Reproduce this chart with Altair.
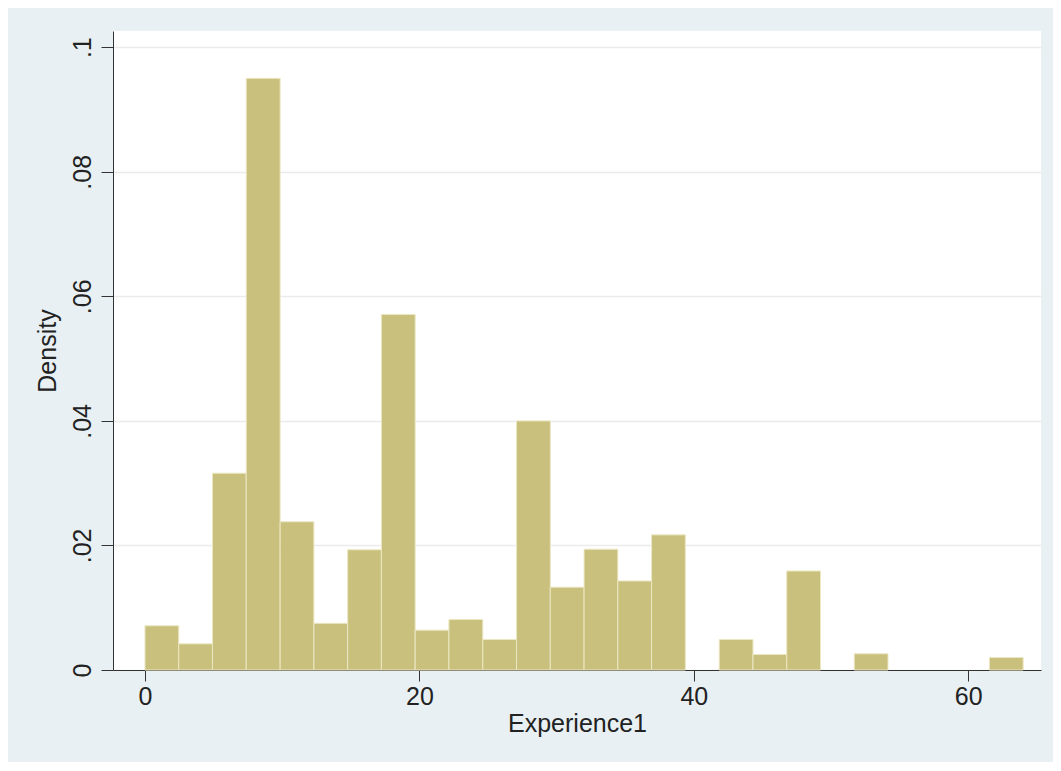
import altair as alt
import pandas as pd

# Histogram bins (Experience1), 26 bins of width ~2.46 from 0 to 64
bin_start = [0, 2.46, 4.92, 7.38, 9.85, 12.31, 14.77, 17.23, 19.69, 22.15, 24.62, 27.08, 29.54,
             32.00, 34.46, 36.92, 39.38, 41.85, 44.31, 46.77, 49.23, 51.69, 54.15, 56.62, 59.08, 61.54]
bin_end = [2.46, 4.92, 7.38, 9.85, 12.31, 14.77, 17.23, 19.69, 22.15, 24.62, 27.08, 29.54, 32.00,
           34.46, 36.92, 39.38, 41.85, 44.31, 46.77, 49.23, 51.69, 54.15, 56.62, 59.08, 61.54, 64.00]
density = [0.0071, 0.0042, 0.0316, 0.0950, 0.0238, 0.0075, 0.0193, 0.0571, 0.0064, 0.0081,
           0.0049, 0.0400, 0.0133, 0.0194, 0.0143, 0.0217, 0.0, 0.0049, 0.0025, 0.0159,
           0.0, 0.0026, 0.0, 0.0, 0.0, 0.0020]

x_ticks = [0, 20, 40, 60]
y_ticks = [0, 0.02, 0.04, 0.06, 0.08, 0.1]

df = pd.DataFrame({"start": bin_start, "end": bin_end, "density": density})

FONT = "Liberation Sans"
FS = 25

chart = alt.Chart(df).transform_filter(
    "datum.density > 0"
).mark_rect(
    color="#c8c07c", stroke="#ece7c4", strokeWidth=1
).encode(
    x=alt.X("start:Q",
            scale=alt.Scale(domain=[-2.33, 65.3], nice=False, zero=False),
            axis=alt.Axis(title="Experience1", values=x_ticks, grid=False,
                          labelFontSize=FS, titleFontSize=FS, tickSize=11,
                          labelPadding=3, titlePadding=2,
                          domainColor="#333333", tickColor="#333333",
                          labelColor="#222222", titleColor="#222222",
                          labelFont=FONT, titleFont=FONT, titleFontWeight="normal")),
    x2="end:Q",
    y=alt.Y("density:Q",
            scale=alt.Scale(domain=[0, 0.1026], nice=False),
            axis=alt.Axis(title="Density", values=y_ticks, grid=True,
                          gridColor="#ebebeb", gridWidth=1.5,
                          labelExpr="datum.value == 0 ? '0' : replace(format(datum.value, '.2~f'), '0.', '.')",
                          labelAngle=270, labelAlign="center", labelBaseline="bottom",
                          labelFontSize=FS, titleFontSize=FS, tickSize=12,
                          labelPadding=6, titlePadding=10,
                          domainColor="#333333", tickColor="#333333",
                          labelColor="#222222", titleColor="#222222",
                          labelFont=FONT, titleFont=FONT, titleFontWeight="normal")),
    y2=alt.datum(0),
).properties(
    width=928,
    height=639,
    autosize=alt.AutoSizeParams(type="none"),
    padding={"left": 105, "top": 23, "right": 12, "bottom": 92},
    background="#e8f0f3",
).configure_view(
    fill="white", stroke=None
)

chart.save("out.html", embed_options={"renderer": "svg", "actions": False})
